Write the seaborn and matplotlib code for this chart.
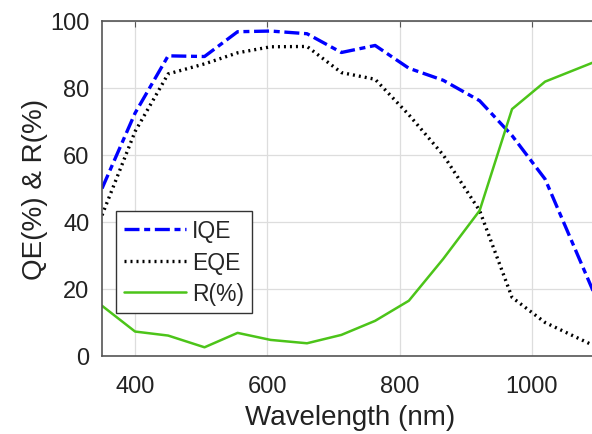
import matplotlib
matplotlib.use("Agg")
import matplotlib.pyplot as plt
import seaborn as sns
import pandas as pd

wavelength = [350, 400, 450, 505, 555, 605, 660, 712, 763, 814, 866, 921, 970, 1020, 1100]
iqe = [50.0, 72.5, 89.6, 89.4, 96.8, 97.0, 96.2, 90.6, 92.7, 85.9, 82.3, 76.2, 65.8, 52.8, 16.0]
eqe = [42.0, 67.0, 84.2, 87.2, 90.5, 92.3, 92.4, 84.6, 82.6, 72.0, 60.0, 43.4, 17.5, 10.0, 2.5]
refl = [15.0, 7.3, 6.1, 2.6, 6.9, 4.8, 3.8, 6.3, 10.5, 16.5, 29.0, 43.4, 73.7, 81.9, 88.2]

df = pd.DataFrame({"Wavelength": wavelength, "IQE": iqe, "EQE": eqe, "R(%)": refl})

sns.set_style("whitegrid")
plt.rcParams["font.family"] = ["Liberation Sans", "DejaVu Sans"]

fig = plt.figure(figsize=(5.92, 4.35), dpi=100)
ax = fig.add_axes([102 / 592, 78 / 435, 496 / 592, 335 / 435])

sns.lineplot(data=df, x="Wavelength", y="IQE", ax=ax, color="#0000FF", lw=2.4,
             label="IQE", sort=False)
ax.lines[-1].set_dashes((4.5, 1.4, 1.8, 1.4))
sns.lineplot(data=df, x="Wavelength", y="EQE", ax=ax, color="black", lw=2.4,
             label="EQE", sort=False)
ax.lines[-1].set_dashes((0.6, 1.2))
ax.lines[-1].set_dash_capstyle("butt")
sns.lineplot(data=df, x="Wavelength", y="R(%)", ax=ax, color="#4CC419", lw=1.8,
             label="R(%)", sort=False)

ax.set_xlim(350, 1100)
ax.set_ylim(0, 100)
ax.set_xticks([400, 600, 800, 1000])
ax.set_yticks([0, 20, 40, 60, 80, 100])
ax.set_xlabel("Wavelength (nm)", fontsize=20, color="#222222", labelpad=4.5)
ax.set_ylabel("QE(%) & R(%)", fontsize=20, color="#222222", labelpad=1.5)
ax.tick_params(axis="x", labelsize=17, colors="#222222", direction="in",
               length=4, width=0.8, pad=14, top=True)
ax.tick_params(axis="y", labelsize=17, colors="#222222", direction="in",
               length=4, width=0.8, pad=9, right=True)
ax.tick_params(axis="both", color="#555555")
ax.grid(True, color="#DDDDDD", lw=0.9)
for s in ax.spines.values():
    s.set_color("#555555")
    s.set_linewidth(1.2)

leg = ax.legend(loc="upper left", bbox_to_anchor=(14 / 496, 145 / 335),
                fontsize=16.5, handlelength=2.7, handletextpad=0.28,
                borderpad=0.35, labelspacing=0.38, fancybox=False,
                framealpha=1, edgecolor="#333333", borderaxespad=0)
leg.get_frame().set_linewidth(1.0)

fig.savefig("out.png", dpi=100)
